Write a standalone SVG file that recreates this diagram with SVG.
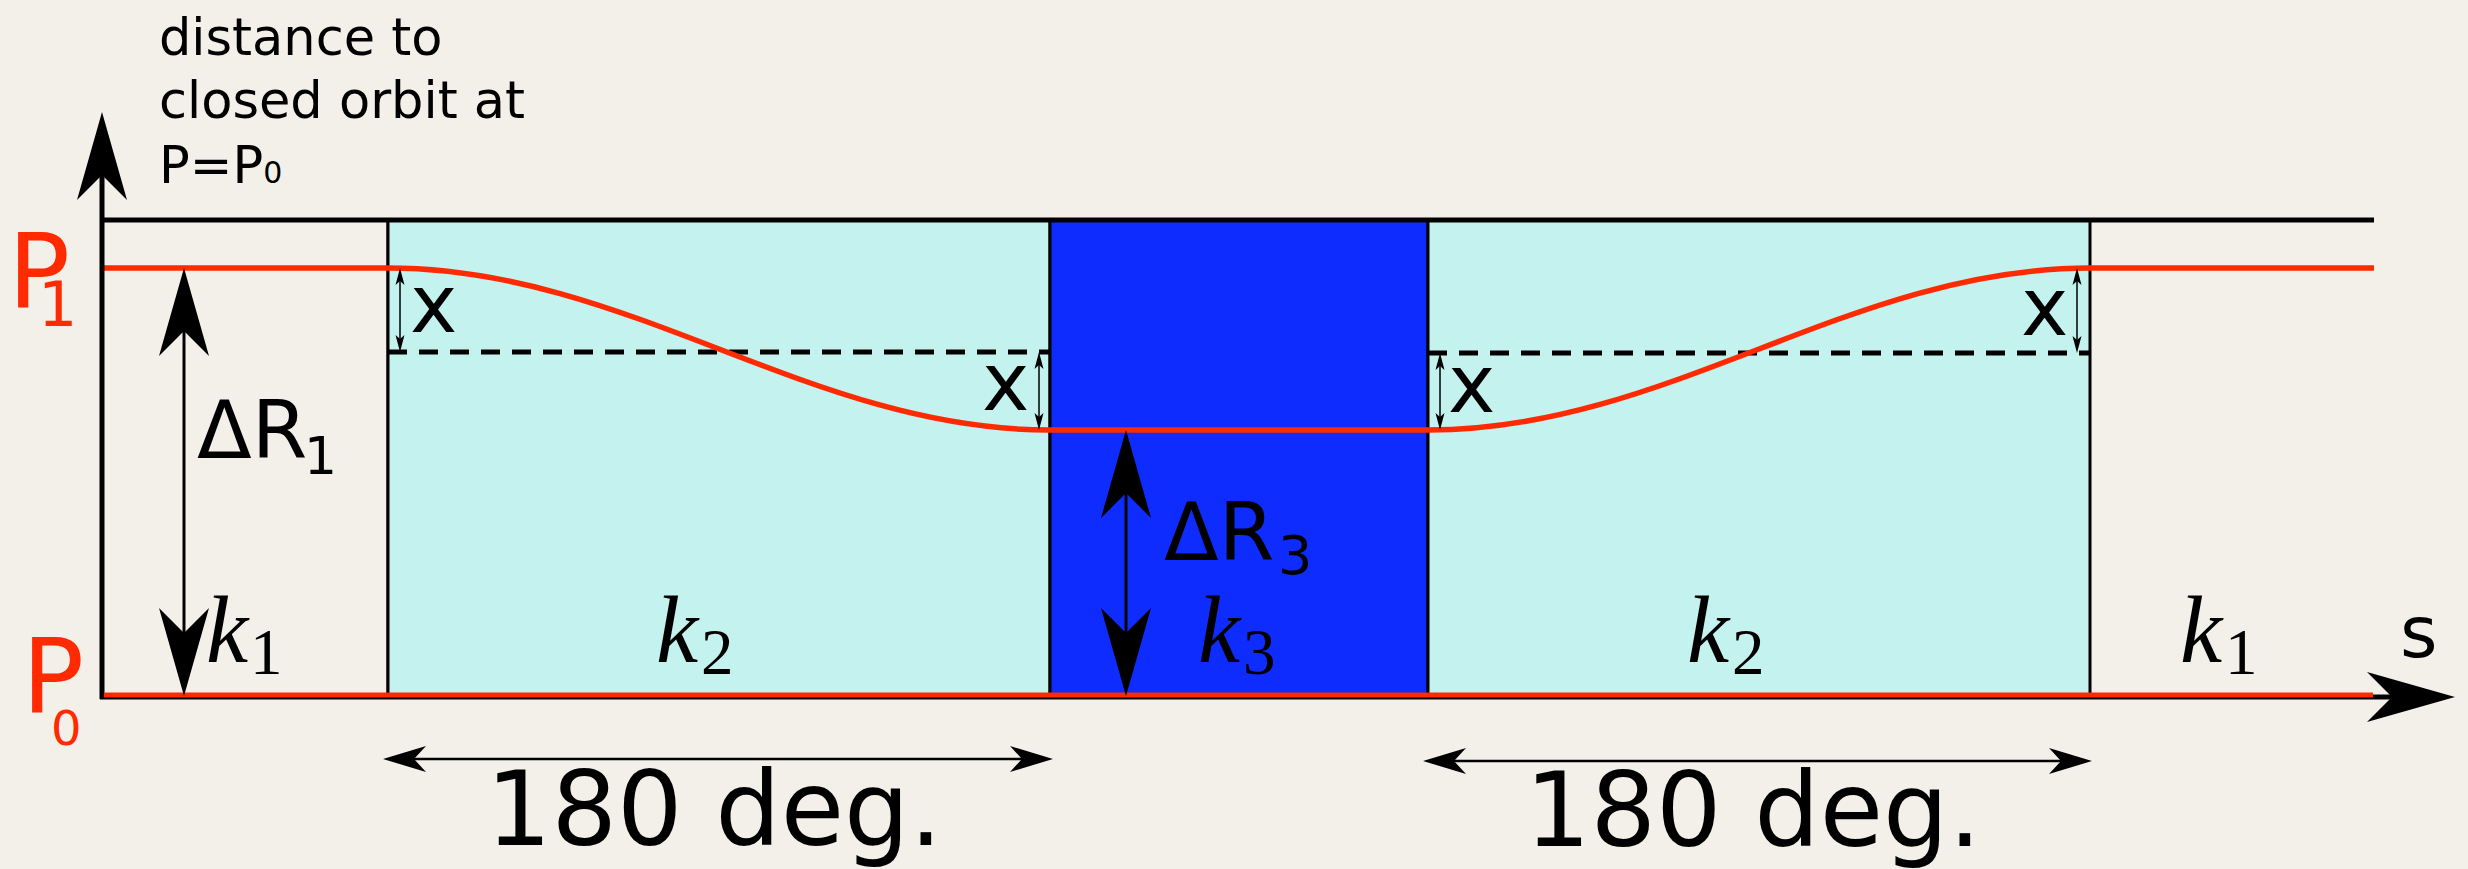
<svg xmlns="http://www.w3.org/2000/svg" width="2468" height="869" viewBox="0 0 2468 869">
<style>
.sans{font-family:"DejaVu Sans","Liberation Sans",sans-serif;fill:#000}
.red{fill:#FF2A00}
.math{font-family:"Liberation Serif","DejaVu Serif",serif;fill:#000}
.box{stroke:#000;stroke-width:3}
.cyan{fill:#C4F2EE}
.blue{fill:#0F2CFF}
.dash{stroke:#000;stroke-width:5;stroke-dasharray:19 12;fill:none}
.orbit{stroke:#FF2A00;stroke-width:5.5;fill:none}
.big{stroke:#000;stroke-width:3;fill:none}
.thin{stroke:#000;stroke-width:1.5;fill:none}
.deg{stroke:#000;stroke-width:2.5;fill:none}
</style>
<defs>
<marker id="bigHead" markerUnits="userSpaceOnUse" orient="auto-start-reverse" refX="0" refY="0" markerWidth="100" markerHeight="60" viewBox="-30 -30 100 60" overflow="visible">
<path d="M63,0 L-25,-25 L0,0 L-25,25 Z" fill="#000"/>
</marker>
<marker id="smallHead" markerUnits="userSpaceOnUse" orient="auto-start-reverse" refX="0" refY="0" markerWidth="30" markerHeight="20" viewBox="-10 -10 30 20" overflow="visible">
<path d="M13,0 L-4,-4.5 L0,0 L-4,4.5 Z" fill="#000"/>
</marker>
<marker id="degHead" markerUnits="userSpaceOnUse" orient="auto-start-reverse" refX="0" refY="0" markerWidth="60" markerHeight="30" viewBox="-15 -15 60 30" overflow="visible">
<path d="M31,0 L-12,-13 L0,0 L-12,13 Z" fill="#000"/>
</marker>
</defs>
<rect x="0" y="0" width="2468" height="869" fill="#F3F0EA"/>

<g id="region-k1-left">
<line x1="388" y1="220" x2="388" y2="696" class="box"/>
<text class="math" x="206" y="662" font-size="95" font-style="italic">k</text>
<text class="math" x="250" y="674" font-size="65">1</text>
</g>
<g id="region-k2-left">
<rect x="388" y="220" width="662" height="476" class="cyan box"/>
<text class="math" x="656" y="662" font-size="95" font-style="italic">k</text>
<text class="math" x="701" y="674" font-size="65">2</text>
</g>
<g id="region-k3">
<rect x="1050" y="220" width="378" height="476" class="blue box"/>
<text class="math" x="1198" y="662" font-size="95" font-style="italic">k</text>
<text class="math" x="1243" y="674" font-size="65">3</text>
</g>
<g id="region-k2-right">
<rect x="1428" y="220" width="662" height="476" class="cyan box"/>
<text class="math" x="1687" y="662" font-size="95" font-style="italic">k</text>
<text class="math" x="1732" y="674" font-size="65">2</text>
</g>
<g id="region-k1-right">
<text class="math" x="2180" y="662" font-size="95" font-style="italic">k</text>
<text class="math" x="2225" y="674" font-size="65">1</text>
</g>

<g id="top-line">
<line x1="100" y1="220" x2="2374" y2="220" stroke="#000" stroke-width="5"/>
</g>

<g id="reference-lines">
<line x1="388" y1="352" x2="1050" y2="352" class="dash"/>
<line x1="1428" y1="353" x2="2090" y2="353" class="dash"/>
</g>

<g id="orbit">
<path class="orbit" d="M104,268 L388,268 C629,268 809,430 1050,430 L1428,430 C1669,430 1849,268 2090,268 L2374,268"/>
</g>

<g id="axes">
<line x1="102" y1="699" x2="102" y2="175" stroke="#000" stroke-width="5" marker-end="url(#bigHead)"/>
<line x1="100" y1="697" x2="2392" y2="697" stroke="#000" stroke-width="5" marker-end="url(#bigHead)"/>
<line x1="104" y1="695" x2="2373" y2="695" stroke="#FF2A00" stroke-width="5"/>
<text class="sans" x="2400" y="657" font-size="72">s</text>
</g>

<g id="connectors">
<line class="big" x1="184" y1="331" x2="184" y2="633" marker-start="url(#bigHead)" marker-end="url(#bigHead)"/>
<line class="big" x1="1126" y1="493" x2="1126" y2="633" marker-start="url(#bigHead)" marker-end="url(#bigHead)"/>
<line class="thin" x1="400" y1="281" x2="400" y2="339" marker-start="url(#smallHead)" marker-end="url(#smallHead)"/>
<line class="thin" x1="1039" y1="365" x2="1039" y2="417" marker-start="url(#smallHead)" marker-end="url(#smallHead)"/>
<line class="thin" x1="1440" y1="366" x2="1440" y2="417" marker-start="url(#smallHead)" marker-end="url(#smallHead)"/>
<line class="thin" x1="2077" y1="281" x2="2077" y2="340" marker-start="url(#smallHead)" marker-end="url(#smallHead)"/>
<line class="deg" x1="414" y1="759" x2="1022" y2="759" marker-start="url(#degHead)" marker-end="url(#degHead)"/>
<line class="deg" x1="1454" y1="761" x2="2061" y2="761" marker-start="url(#degHead)" marker-end="url(#degHead)"/>
</g>

<g id="labels">
<text class="sans" x="159" y="55" font-size="51">distance to</text>
<text class="sans" x="159" y="118" font-size="51">closed orbit at</text>
<text class="sans" x="159" y="183" font-size="51">P=P<tspan font-size="30">0</tspan></text>
<text class="sans red" x="8" y="307" font-size="103">P</text>
<text class="sans red" x="38" y="326" font-size="62">1</text>
<text class="sans red" x="22" y="712" font-size="103">P</text>
<text class="sans red" x="51" y="745" font-size="48">0</text>
<text class="sans" x="197" y="458" font-size="80">ΔR</text>
<text class="sans" x="304" y="474" font-size="52">1</text>
<text class="sans" x="1164" y="560" font-size="80">ΔR</text>
<text class="sans" x="1278" y="574" font-size="54">3</text>
<text class="sans" x="410" y="332" font-size="80">x</text>
<text class="sans" x="982" y="410" font-size="80">x</text>
<text class="sans" x="1448" y="412" font-size="80">x</text>
<text class="sans" x="2021" y="335" font-size="80">x</text>
<text class="sans" x="486" y="845" font-size="103">180 deg.</text>
<text class="sans" x="1525" y="846" font-size="103">180 deg.</text>
</g>
</svg>
